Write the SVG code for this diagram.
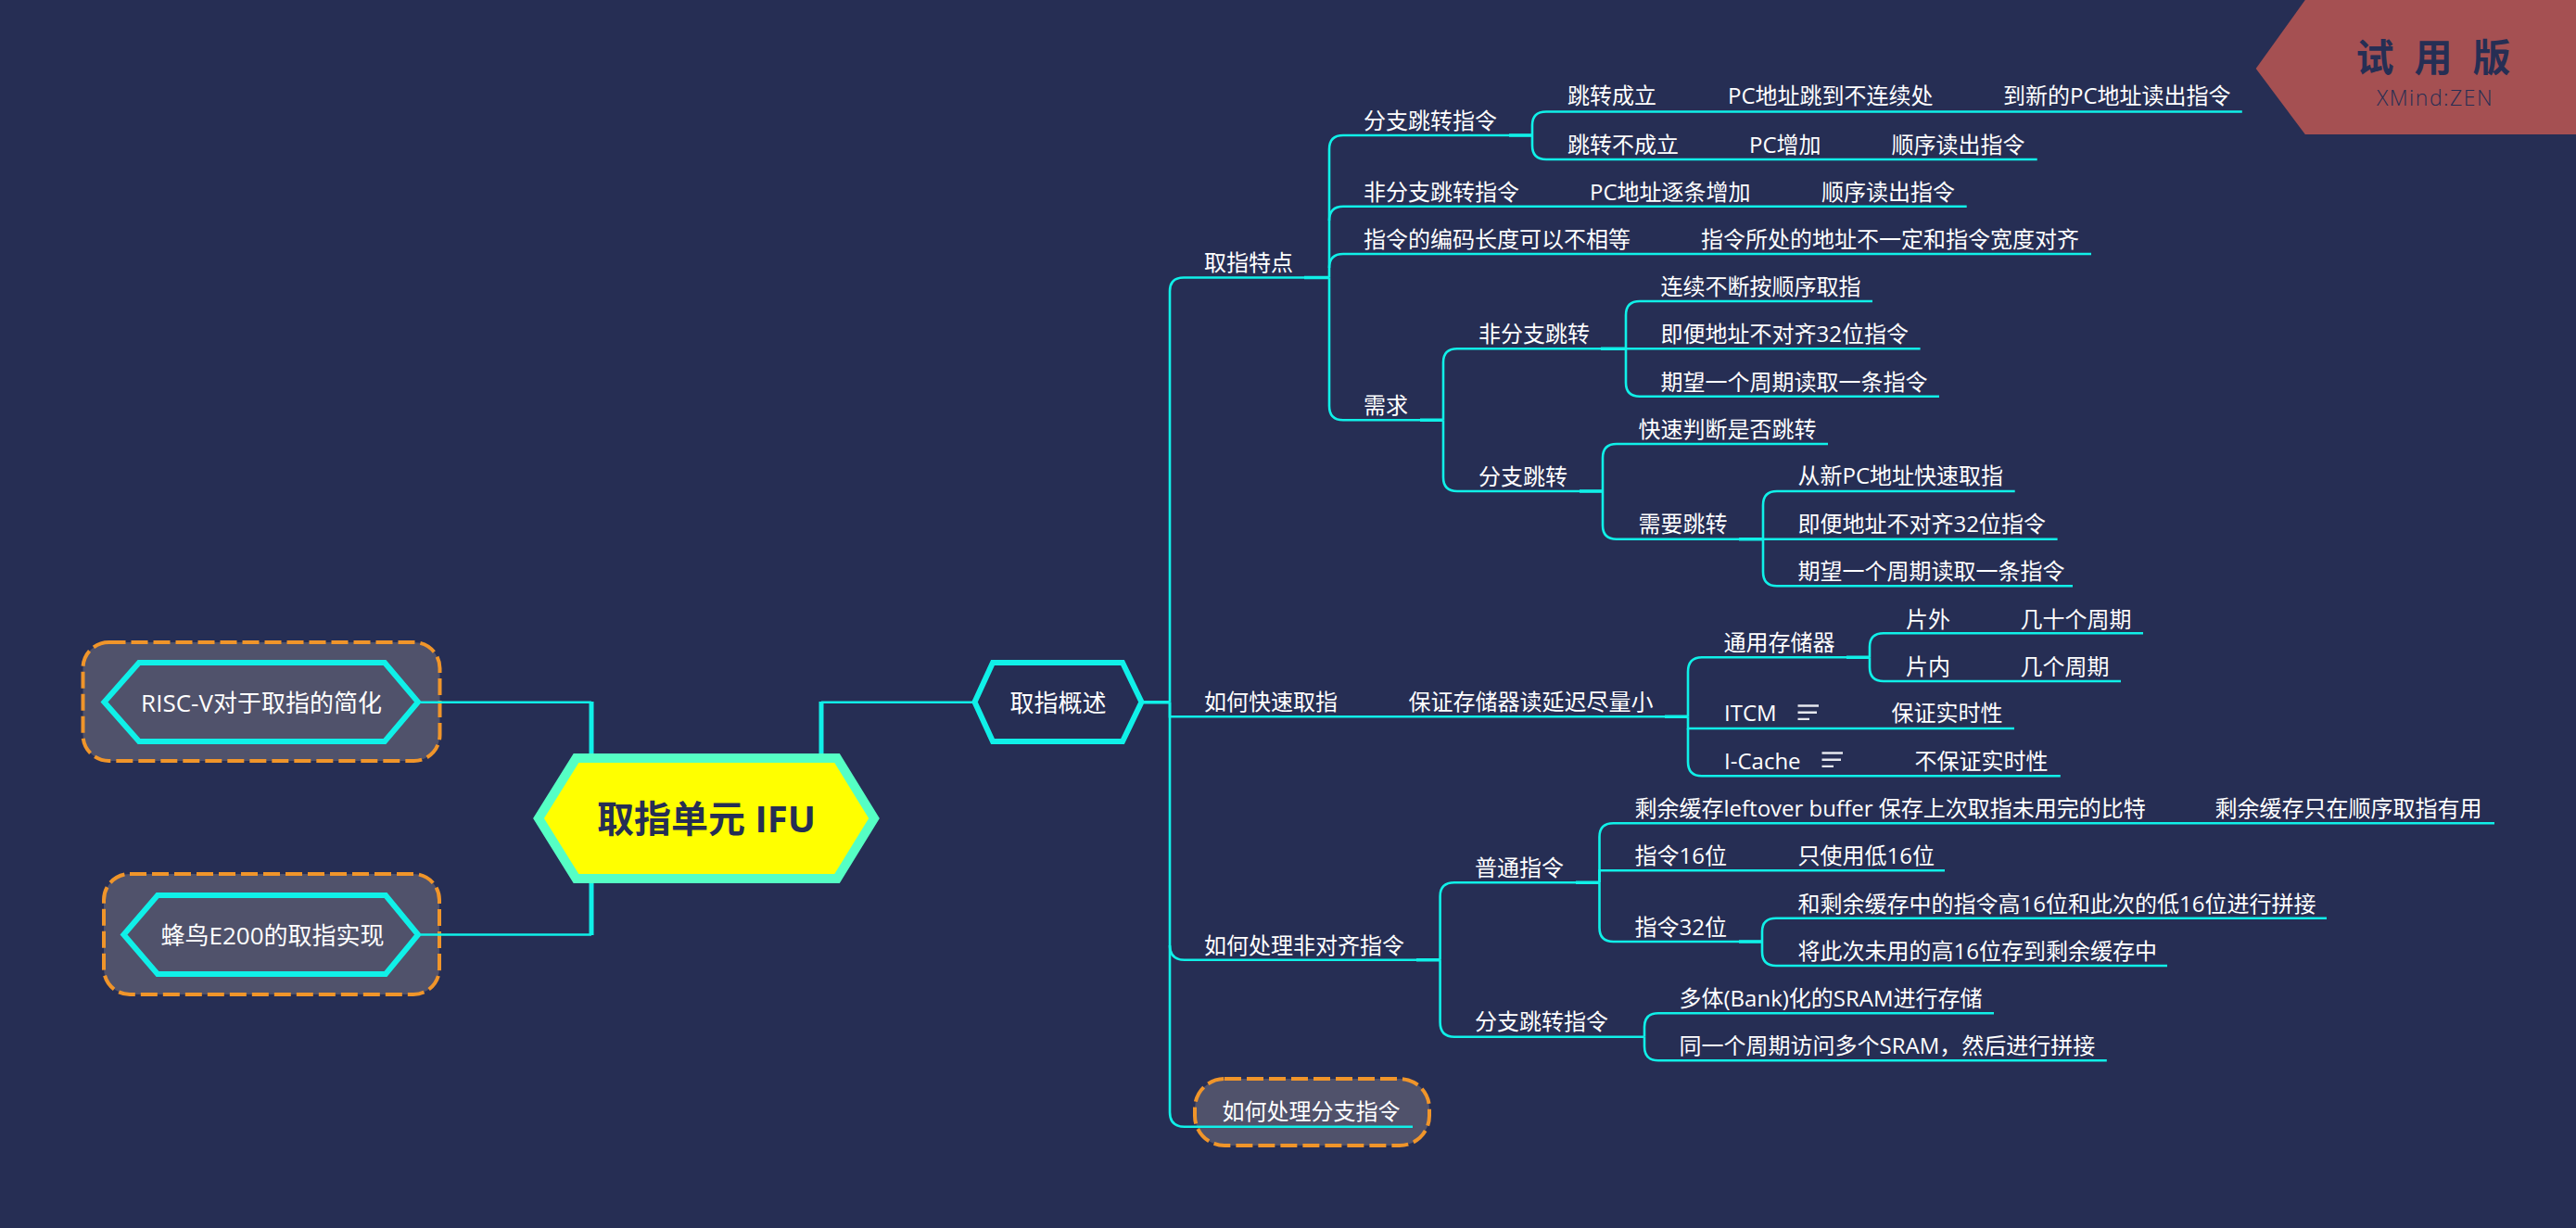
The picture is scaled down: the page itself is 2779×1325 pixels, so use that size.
<svg xmlns="http://www.w3.org/2000/svg" width="2779" height="1325" viewBox="0 0 2779 1325">
<style>
text{font-family:"Open Sans","Noto Sans CJK SC",sans-serif;fill:#fff;font-size:24px}
.m{font-size:26px;text-anchor:middle}
.c{fill:none;stroke:#10f0e8;stroke-width:2.6}
.s{fill:none;stroke:#10f0e8;stroke-width:3.6}
.r{fill:none;stroke:#10f0e8;stroke-width:5}
.d{fill:#50526b;stroke:#f0952a;stroke-width:4;stroke-dasharray:18 6}
.h{fill:#50526b;stroke:#10f0e8;stroke-width:6}
.n{stroke:#e6e8ee;stroke-width:2.4;fill:none}
</style>
<rect width="2779" height="1325" fill="#262e54"/>
<g id="box-risc"><rect class="d" x="89.5" y="693" width="385" height="128" rx="28"/></g>
<g id="box-e200"><rect class="d" x="112" y="943" width="362" height="130" rx="28"/></g>
<g id="box-branch"><rect class="d" x="1289" y="1164" width="253" height="72" rx="32"/></g>
<g id="connectors">
<path class="c" d="M454 757.7H638M454 1008.5H638M886 757.7H1050"/>
<path class="r" d="M638 757V813M638 953V1009M886 757V813"/>
<path class="s" d="M1234 757.7H1262M1407 299.5H1434M1628 146H1653M1532 453.3H1557M1727 376.3H1754M1704 530H1729M1876 581.7H1902M1796 773.3H1821M1992 709.3H2017M1528 1035.7H1553.6M1700 952.3H1725.5M1876 1016H1901"/>
<path class="c" d="M1262 757.7V314Q1262 299.5 1277 299.5H1434"/>
<path class="c" d="M1262 757.7V773.3H1821"/>
<path class="c" d="M1262 757.7V1020Q1262 1035.7 1278 1035.7H1553.6"/>
<path class="c" d="M1262 1020V1200Q1262 1215.7 1278 1215.7H1524"/>
<path class="c" d="M1434 299.5V161Q1434 146 1449 146H1653"/>
<path class="c" d="M1434 238Q1434 222.7 1449 222.7H2121.7"/>
<path class="c" d="M1434 289Q1434 274 1449 274H2256"/>
<path class="c" d="M1434 299.5V438Q1434 453.3 1449 453.3H1557"/>
<path class="c" d="M1653 146V135Q1653 120.5 1668 120.5H2418.8"/>
<path class="c" d="M1653 146V157Q1653 172 1668 172H2197.7"/>
<path class="c" d="M1557 453.3V391Q1557 376.3 1572 376.3H1754"/>
<path class="c" d="M1557 453.3V515Q1557 530 1572 530H1729"/>
<path class="c" d="M1754 376.3V340Q1754 325 1769 325H2020"/>
<path class="c" d="M1754 376.3H2071.6"/>
<path class="c" d="M1754 376.3V413Q1754 427.7 1769 427.7H2092"/>
<path class="c" d="M1729 530V494Q1729 479 1744 479H1972"/>
<path class="c" d="M1729 530V567Q1729 581.7 1744 581.7H1902"/>
<path class="c" d="M1902 581.7V545Q1902 530 1917 530H2173.7"/>
<path class="c" d="M1902 581.7H2219.6"/>
<path class="c" d="M1902 581.7V617Q1902 632.3 1917 632.3H2236"/>
<path class="c" d="M1821 773.3V725Q1821 709.3 1836 709.3H2017"/>
<path class="c" d="M1821 773.3V786H2173"/>
<path class="c" d="M1821 786V822Q1821 837.3 1836 837.3H2222.8"/>
<path class="c" d="M2017 709.3V698Q2017 683.3 2032 683.3H2312"/>
<path class="c" d="M2017 709.3V720Q2017 735 2032 735H2288"/>
<path class="c" d="M1553.6 1035.7V967Q1553.6 952.3 1569 952.3H1725.5"/>
<path class="c" d="M1553.6 1035.7V1103Q1553.6 1118.7 1569 1118.7H1774"/>
<path class="c" d="M1725.5 952.3V903Q1725.5 888.3 1740.5 888.3H2691"/>
<path class="c" d="M1725.5 952.3V939.3H2098"/>
<path class="c" d="M1725.5 952.3V1001Q1725.5 1016 1740.5 1016H1901"/>
<path class="c" d="M1901 1016V1005Q1901 990.7 1916 990.7H2510"/>
<path class="c" d="M1901 1016V1027Q1901 1042 1916 1042H2338"/>
<path class="c" d="M1774 1118.7V1108Q1774 1093.3 1789 1093.3H2151"/>
<path class="c" d="M1774 1118.7V1129Q1774 1144.3 1789 1144.3H2272.8"/>
</g>
<g id="root"><polygon points="581,883 621.5,818 903,818 943,883 903,948 621.5,948" fill="#ffff00" stroke="#55ffc4" stroke-width="10"/><text x="762" y="898" style="font-size:40px;font-weight:700;fill:#262e54;text-anchor:middle">取指单元 IFU</text></g>
<g id="n-risc"><polygon class="h" points="112.5,757.5 150,715 415,715 451,757.5 415,800 150,800"/><text class="m" x="282" y="767.5">RISC-V对于取指的简化</text></g>
<g id="n-e200"><polygon class="h" points="133.5,1008.5 170,966 416,966 451,1008.5 416,1051 170,1051"/><text class="m" x="294" y="1018.5">蜂鸟E200的取指实现</text></g>
<g id="n-overview"><polygon points="1051.5,757.5 1071,715 1211,715 1231.5,757.5 1211,800 1071,800" fill="#262e54" stroke="#10f0e8" stroke-width="6"/><text class="m" x="1141.5" y="767.5">取指概述</text></g>
<g id="n1"><text x="1299" y="292">取指特点</text></g>
<g id="n2"><text x="1471" y="139">分支跳转指令</text></g>
<g id="n3"><text x="1691" y="112">跳转成立</text></g>
<g id="n4"><text x="1864" y="112">PC地址跳到不连续处</text></g>
<g id="n5"><text x="2161" y="112">到新的PC地址读出指令</text></g>
<g id="n6"><text x="1691" y="164.5">跳转不成立</text></g>
<g id="n7"><text x="1887" y="164.5">PC增加</text></g>
<g id="n8"><text x="2040.5" y="164.5">顺序读出指令</text></g>
<g id="n9"><text x="1471" y="215.5">非分支跳转指令</text></g>
<g id="n10"><text x="1715" y="215.5">PC地址逐条增加</text></g>
<g id="n11"><text x="1965" y="215.5">顺序读出指令</text></g>
<g id="n12"><text x="1471" y="266.5">指令的编码长度可以不相等</text></g>
<g id="n13"><text x="1835" y="266.5">指令所处的地址不一定和指令宽度对齐</text></g>
<g id="n14"><text x="1471" y="445.5">需求</text></g>
<g id="n15"><text x="1595" y="369">非分支跳转</text></g>
<g id="n16"><text x="1791.5" y="318">连续不断按顺序取指</text></g>
<g id="n17"><text x="1791.5" y="369">即便地址不对齐32位指令</text></g>
<g id="n18"><text x="1791.5" y="421">期望一个周期读取一条指令</text></g>
<g id="n19"><text x="1595" y="523">分支跳转</text></g>
<g id="n20"><text x="1767.5" y="471.5">快速判断是否跳转</text></g>
<g id="n21"><text x="1767.5" y="574">需要跳转</text></g>
<g id="n22"><text x="1939.5" y="522">从新PC地址快速取指</text></g>
<g id="n23"><text x="1939.5" y="574">即便地址不对齐32位指令</text></g>
<g id="n24"><text x="1939.5" y="625">期望一个周期读取一条指令</text></g>
<g id="n25"><text x="1299" y="765.5">如何快速取指</text></g>
<g id="n26"><text x="1519.5" y="765.5">保证存储器读延迟尽量小</text></g>
<g id="n27"><text x="1859.5" y="702">通用存储器</text></g>
<g id="n28"><text x="2056" y="677">片外</text></g>
<g id="n29"><text x="2179.5" y="677">几十个周期</text></g>
<g id="n30"><text x="2056" y="728">片内</text></g>
<g id="n31"><text x="2179.5" y="728">几个周期</text></g>
<g id="n32"><text x="1860" y="778">ITCM</text><path class="n" d="M1939.5 761.5H1962M1939.5 768.7H1960M1939.5 775.9H1952"/></g>
<g id="n33"><text x="2040.5" y="778">保证实时性</text></g>
<g id="n34"><text x="1860" y="829.5">I-Cache</text><path class="n" d="M1965.5 812.5H1988M1965.5 819.7H1986M1965.5 826.9H1978"/></g>
<g id="n35"><text x="2065.5" y="829.5">不保证实时性</text></g>
<g id="n36"><text x="1299" y="1029">如何处理非对齐指令</text></g>
<g id="n37"><text x="1591" y="944.5">普通指令</text></g>
<g id="n38"><text x="1763.5" y="880.5">剩余缓存leftover buffer 保存上次取指未用完的比特</text></g>
<g id="n39"><text x="2389.5" y="880.5">剩余缓存只在顺序取指有用</text></g>
<g id="n40"><text x="1763.5" y="932">指令16位</text></g>
<g id="n41"><text x="1939.5" y="932">只使用低16位</text></g>
<g id="n42"><text x="1763.5" y="1009">指令32位</text></g>
<g id="n43"><text x="1939.5" y="984">和剩余缓存中的指令高16位和此次的低16位进行拼接</text></g>
<g id="n44"><text x="1939.5" y="1034.5">将此次未用的高16位存到剩余缓存中</text></g>
<g id="n45"><text x="1591" y="1111">分支跳转指令</text></g>
<g id="n46"><text x="1811.5" y="1085.5">多体(Bank)化的SRAM进行存储</text></g>
<g id="n47"><text x="1811.5" y="1137">同一个周期访问多个SRAM，然后进行拼接</text></g>
<g id="n48"><text x="1318.5" y="1208">如何处理分支指令</text></g>
<g id="badge"><polygon points="2433.7,74 2486.8,0 2779,0 2779,145 2486.8,145" fill="#a55052"/><text x="2636" y="77" style="font-size:41px;font-weight:700;fill:#262e54;text-anchor:middle;letter-spacing:22px">试用版</text><text x="2627" y="114" style="font-size:23px;font-weight:300;fill:#262e54;text-anchor:middle;letter-spacing:1.5px">XMind:ZEN</text></g>
</svg>
